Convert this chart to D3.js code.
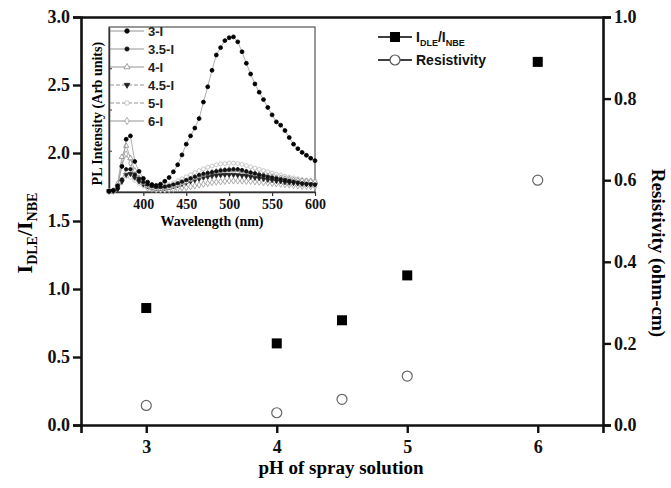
<!DOCTYPE html>
<html>
<head>
<meta charset="utf-8">
<script src="https://cdn.jsdelivr.net/npm/d3@7"></script>
<style>
  body { margin: 0; background: #fff; }
  svg { display: block; }
</style>
</head>
<body>
<div id="chart"></div>
<script>
// main chart data
const phValues = [3, 4, 4.5, 5, 6];
const ratioValues = [0.86, 0.60, 0.77, 1.10, 2.67];
const resistivityValues = [0.048, 0.030, 0.063, 0.120, 0.600];
const xTickValues = [3, 4, 5, 6];
const leftTickValues = [0, 0.5, 1.0, 1.5, 2.0, 2.5, 3.0];
const rightTickValues = [0, 0.2, 0.4, 0.6, 0.8, 1.0];

// inset PL spectra (arbitrary units)
const wavelengths = [360, 365, 370, 375, 380, 385, 390, 395, 400, 405, 410, 415, 420, 425, 430, 435, 440,
  445, 450, 455, 460, 465, 470, 475, 480, 485, 490, 495, 500, 505, 510, 515, 520, 525, 530, 535, 540,
  545, 550, 555, 560, 565, 570, 575, 580, 585, 590, 595, 600];
const insetTickValues = [400, 450, 500, 550, 600];
const pl3 = [0.02, 0.04, 0.15, 0.62, 1.28, 1.36, 0.74, 0.50, 0.33, 0.24, 0.18, 0.16, 0.19, 0.26, 0.35, 0.49, 0.66,
  0.90, 1.16, 1.36, 1.55, 1.78, 2.18, 2.55, 2.95, 3.32, 3.50, 3.67, 3.74, 3.76, 3.64, 3.40, 3.12, 2.86, 2.62, 2.42, 2.24,
  2.05, 1.87, 1.70, 1.62, 1.49, 1.32, 1.16, 1.05, 0.96, 0.89, 0.82, 0.76];
const pl35 = [0.02, 0.03, 0.08, 0.30, 0.55, 0.55, 0.42, 0.32, 0.24, 0.18, 0.14, 0.12, 0.12, 0.13, 0.15, 0.18, 0.21,
  0.25, 0.29, 0.33, 0.37, 0.41, 0.44, 0.46, 0.48, 0.50, 0.52, 0.53, 0.54, 0.55, 0.55, 0.53, 0.50, 0.47, 0.45, 0.42, 0.40,
  0.37, 0.35, 0.33, 0.31, 0.29, 0.27, 0.25, 0.23, 0.21, 0.20, 0.19, 0.18];
const pl4 = [0.01, 0.03, 0.20, 0.85, 1.12, 0.82, 0.52, 0.34, 0.22, 0.14, 0.10, 0.08, 0.08, 0.09, 0.11, 0.14, 0.17,
  0.21, 0.25, 0.30, 0.34, 0.38, 0.42, 0.45, 0.48, 0.50, 0.52, 0.53, 0.54, 0.54, 0.53, 0.51, 0.49, 0.47, 0.45, 0.43, 0.41,
  0.39, 0.37, 0.35, 0.34, 0.32, 0.31, 0.29, 0.28, 0.27, 0.26, 0.26, 0.25];
const pl45 = [0.02, 0.03, 0.07, 0.25, 0.42, 0.44, 0.35, 0.26, 0.19, 0.14, 0.11, 0.09, 0.09, 0.10, 0.12, 0.14, 0.17,
  0.20, 0.23, 0.26, 0.29, 0.32, 0.35, 0.37, 0.39, 0.40, 0.41, 0.42, 0.42, 0.42, 0.41, 0.40, 0.39, 0.37, 0.35, 0.34, 0.32,
  0.30, 0.29, 0.27, 0.26, 0.24, 0.23, 0.22, 0.21, 0.20, 0.19, 0.18, 0.18];
const pl5 = [0.02, 0.03, 0.10, 0.30, 0.38, 0.36, 0.28, 0.21, 0.16, 0.13, 0.12, 0.12, 0.13, 0.15, 0.18, 0.22, 0.27,
  0.32, 0.37, 0.42, 0.47, 0.52, 0.56, 0.60, 0.63, 0.66, 0.68, 0.69, 0.70, 0.70, 0.69, 0.67, 0.64, 0.61, 0.58, 0.55, 0.52,
  0.49, 0.46, 0.43, 0.41, 0.38, 0.36, 0.34, 0.32, 0.30, 0.29, 0.28, 0.27];
const pl6 = [0.01, 0.02, 0.15, 0.65, 0.92, 0.70, 0.45, 0.28, 0.17, 0.10, 0.07, 0.05, 0.05, 0.05, 0.06, 0.07, 0.08,
  0.10, 0.11, 0.13, 0.15, 0.17, 0.19, 0.21, 0.23, 0.24, 0.25, 0.26, 0.27, 0.27, 0.27, 0.27, 0.26, 0.26, 0.25, 0.24, 0.23,
  0.22, 0.21, 0.20, 0.19, 0.18, 0.17, 0.16, 0.15, 0.14, 0.14, 0.13, 0.13];
const seriesNames = ["3-I", "3.5-I", "4-I", "4.5-I", "5-I", "6-I"];

const width = 671, height = 488;
const serif = "'Liberation Serif', 'Times New Roman', serif";
const sans = "'Liberation Sans', Arial, sans-serif";

const svg = d3.select("#chart")
    .append("svg")
    .attr("width", width)
    .attr("height", height);

// scales for the main plot
const xScale = d3.scaleLinear().domain([2.5, 6.5]).range([81, 603]);
const yLeft = d3.scaleLinear().domain([0, 3]).range([425, 17]);
const yRight = d3.scaleLinear().domain([0, 1]).range([425, 17]);

// axes
const bottomAxis = svg.append("g")
    .attr("transform", `translate(0,${yLeft(0)})`)
    .call(d3.axisBottom(xScale).tickValues(xTickValues).tickSize(8).tickPadding(7).tickFormat(d3.format("d")));
const leftAxis = svg.append("g")
    .attr("transform", `translate(${xScale(2.5)},0)`)
    .call(d3.axisLeft(yLeft).tickValues(leftTickValues).tickSize(8).tickPadding(3).tickFormat(d3.format(".1f")));
const rightAxis = svg.append("g")
    .attr("transform", `translate(${xScale(6.5)},0)`)
    .call(d3.axisRight(yRight).tickValues(rightTickValues).tickSize(8).tickPadding(3).tickFormat(d3.format(".1f")));
const topAxis = svg.append("g")
    .attr("transform", `translate(0,${yLeft(3)})`)
    .call(d3.axisTop(xScale).tickValues([]).tickSizeOuter(0));

[bottomAxis, leftAxis, rightAxis, topAxis].forEach(g => {
    g.select(".domain").attr("stroke", "#111").attr("stroke-width", 2.6);
    g.selectAll(".tick line").attr("stroke", "#111").attr("stroke-width", 2.4);
    g.selectAll(".tick text")
        .attr("fill", "#111")
        .style("font-family", serif)
        .style("font-weight", "bold")
        .style("font-size", "18px");
});

// inset plot
const xInset = d3.scaleLinear().domain([360, 600]).range([109, 315]);
const yInset = d3.scaleLinear().domain([0, 4]).range([192, 27]);

svg.append("rect")
    .attr("x", xInset(360))
    .attr("y", yInset(4))
    .attr("width", xInset(600) - xInset(360))
    .attr("height", yInset(0) - yInset(4))
    .attr("fill", "#fff")
    .attr("stroke", "#555")
    .attr("stroke-width", 1.2);

svg.append("g")
    .attr("transform", `translate(0,${yInset(0)})`)
    .call(d3.axisBottom(xInset).tickValues(insetTickValues).tickSize(4).tickPadding(3).tickSizeOuter(0))
    .call(g => g.select(".domain").attr("stroke", "#333").attr("stroke-width", 1.5))
    .call(g => g.selectAll(".tick line").attr("stroke", "#333").attr("stroke-width", 1.2))
    .call(g => g.selectAll(".tick text").attr("fill", "#111")
        .style("font-family", serif).style("font-weight", "bold").style("font-size", "14px"));

svg.append("g")
    .attr("transform", `translate(${xInset(360)},0)`)
    .call(d3.axisRight(yInset).tickValues([1, 2, 3]).tickSize(3).tickFormat("").tickSizeOuter(0))
    .call(g => g.select(".domain").attr("stroke", "#333").attr("stroke-width", 1.5))
    .call(g => g.selectAll(".tick line").attr("stroke", "#333").attr("stroke-width", 1));

const insetSeries = [
    { name: seriesNames[0], values: pl3, symbol: d3.symbolCircle, size: 12, fill: "#000", stroke: "#000", dash: null, rot: 0 },
    { name: seriesNames[1], values: pl35, symbol: d3.symbolCircle, size: 10, fill: "#111", stroke: "#111", dash: null, rot: 0 },
    { name: seriesNames[2], values: pl4, symbol: d3.symbolTriangle, size: 12, fill: "#fff", stroke: "#888", dash: null, rot: 0 },
    { name: seriesNames[3], values: pl45, symbol: d3.symbolTriangle, size: 10, fill: "#222", stroke: "#222", dash: "4,2", rot: 180 },
    { name: seriesNames[4], values: pl5, symbol: d3.symbolCircle, size: 12, fill: "#fff", stroke: "#bbb", dash: "4,2", rot: 0 },
    { name: seriesNames[5], values: pl6, symbol: d3.symbolDiamond, size: 12, fill: "#fff", stroke: "#999", dash: null, rot: 0 }
];

const insetLine = d3.line()
    .x((d, i) => xInset(wavelengths[i]))
    .y(d => yInset(d));

const insetG = svg.append("g");
// draw low curves first, the strong 3-I curve last
[...insetSeries].reverse().forEach(s => {
    insetG.append("path")
        .datum(s.values)
        .attr("d", insetLine)
        .attr("fill", "none")
        .attr("stroke", "#999")
        .attr("stroke-width", 0.8)
        .attr("stroke-dasharray", s.dash);
    insetG.selectAll(null)
        .data(s.values)
        .join("path")
        .attr("d", d3.symbol().type(s.symbol).size(s.size))
        .attr("transform", (d, i) => `translate(${xInset(wavelengths[i])},${yInset(d)}) rotate(${s.rot})`)
        .attr("fill", s.fill)
        .attr("stroke", s.stroke)
        .attr("stroke-width", 0.8);
});

// inset legend
const insetLegend = svg.append("g");
insetSeries.forEach((s, i) => {
    const y = 31 + i * 18;
    insetLegend.append("line")
        .attr("x1", 110).attr("x2", 144).attr("y1", y).attr("y2", y)
        .attr("stroke", "#888").attr("stroke-width", 0.9)
        .attr("stroke-dasharray", s.dash);
    insetLegend.append("path")
        .attr("d", d3.symbol().type(s.symbol).size(s.size + 4))
        .attr("transform", `translate(127,${y}) rotate(${s.rot})`)
        .attr("fill", s.fill)
        .attr("stroke", s.stroke)
        .attr("stroke-width", 0.8);
    insetLegend.append("text")
        .attr("x", 148).attr("y", y + 5)
        .style("font-family", sans).style("font-weight", "bold").style("font-size", "13px")
        .attr("fill", "#222")
        .text(s.name);
});

svg.append("text")
    .attr("x", xInset(480))
    .attr("y", 226)
    .attr("text-anchor", "middle")
    .style("font-family", serif).style("font-weight", "bold").style("font-size", "14px")
    .text("Wavelength (nm)");

svg.append("text")
    .attr("transform", `translate(102,${yInset(1.9)}) rotate(-90)`)
    .attr("text-anchor", "middle")
    .style("font-family", serif).style("font-weight", "bold").style("font-size", "14px")
    .text("PL Intensity (Arb units)");

// main data points
svg.selectAll(".ratio")
    .data(ratioValues)
    .join("rect")
    .attr("class", "ratio")
    .attr("x", (d, i) => xScale(phValues[i]) - 5)
    .attr("y", d => yLeft(d) - 5)
    .attr("width", 10)
    .attr("height", 10)
    .attr("fill", "#000");

svg.selectAll(".resist")
    .data(resistivityValues)
    .join("circle")
    .attr("class", "resist")
    .attr("cx", (d, i) => xScale(phValues[i]))
    .attr("cy", d => yRight(d))
    .attr("r", 5)
    .attr("fill", "#fff")
    .attr("stroke", "#666")
    .attr("stroke-width", 1.2);

// main legend
const legend = svg.append("g");
legend.append("line").attr("x1", 378).attr("x2", 412).attr("y1", 37).attr("y2", 37)
    .attr("stroke", "#000").attr("stroke-width", 1.6);
legend.append("rect").attr("x", 390).attr("y", 32).attr("width", 10).attr("height", 10).attr("fill", "#000");
legend.append("line").attr("x1", 378).attr("x2", 412).attr("y1", 60).attr("y2", 60)
    .attr("stroke", "#000").attr("stroke-width", 1.6);
legend.append("circle").attr("cx", 395).attr("cy", 60).attr("r", 5)
    .attr("fill", "#fff").attr("stroke", "#555").attr("stroke-width", 1.2);

const legText1 = legend.append("text")
    .attr("x", 416).attr("y", 42)
    .style("font-family", sans).style("font-weight", "bold").style("font-size", "14px")
    .attr("fill", "#111");
legText1.append("tspan").text("I");
legText1.append("tspan").attr("dy", 4).style("font-size", "9px").text("DLE");
legText1.append("tspan").attr("dy", -4).text("/I");
legText1.append("tspan").attr("dy", 4).style("font-size", "9px").text("NBE");

legend.append("text")
    .attr("x", 416).attr("y", 65)
    .style("font-family", sans).style("font-weight", "bold").style("font-size", "14px")
    .attr("fill", "#111")
    .text("Resistivity");

// axis titles
svg.append("text")
    .attr("x", 341).attr("y", 474)
    .attr("text-anchor", "middle")
    .style("font-family", serif).style("font-weight", "bold").style("font-size", "19px")
    .text("pH of spray solution");

const leftTitle = svg.append("text")
    .attr("transform", `translate(32,${yLeft(1.5) + 12}) rotate(-90)`)
    .attr("text-anchor", "middle")
    .style("font-family", serif).style("font-weight", "bold").style("font-size", "22px");
leftTitle.append("tspan").text("I");
leftTitle.append("tspan").attr("dy", 5).style("font-size", "14px").text("DLE");
leftTitle.append("tspan").attr("dy", -5).text("/I");
leftTitle.append("tspan").attr("dy", 5).style("font-size", "14px").text("NBE");

svg.append("text")
    .attr("transform", `translate(652,${yRight(0.5) + 32}) rotate(90)`)
    .attr("text-anchor", "middle")
    .style("font-family", serif).style("font-weight", "bold").style("font-size", "19px")
    .text("Resistivity (ohm-cm)");
</script>
</body>
</html>
